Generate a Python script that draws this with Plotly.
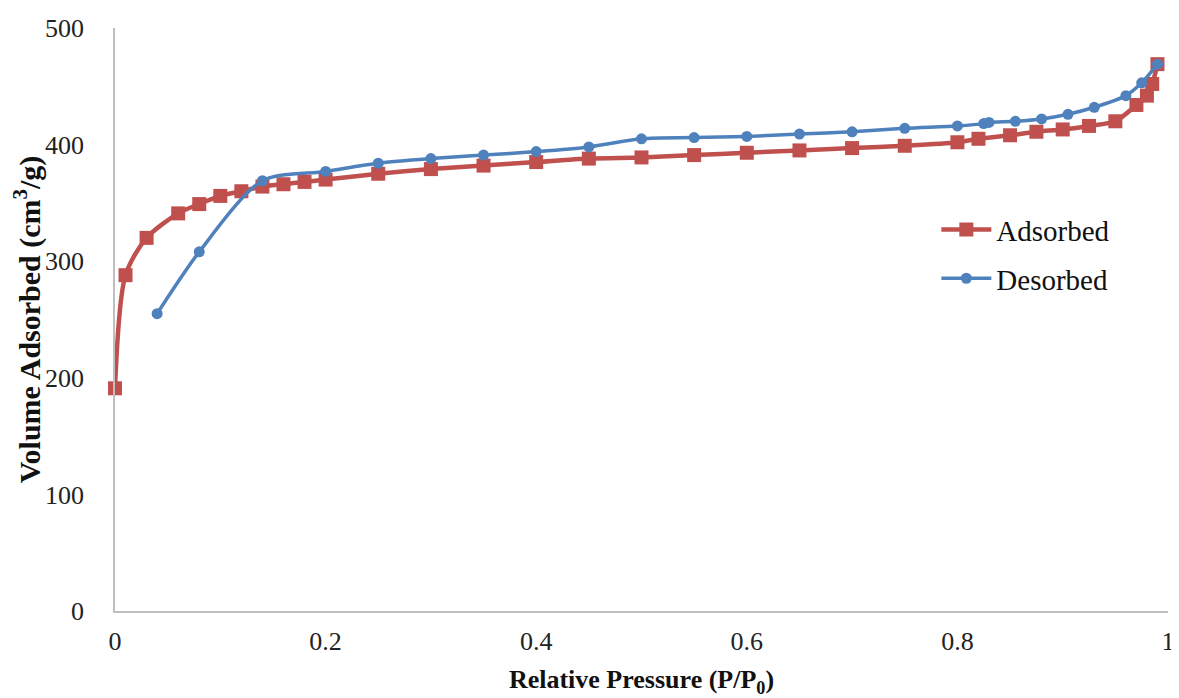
import plotly.graph_objects as go

ads_x = [0, 0.01, 0.03, 0.06, 0.08, 0.1, 0.12, 0.14, 0.16, 0.18, 0.2, 0.25, 0.3, 0.35, 0.4,
         0.45, 0.5, 0.55, 0.6, 0.65, 0.7, 0.75, 0.8, 0.82, 0.85, 0.875, 0.9, 0.925, 0.95,
         0.97, 0.98, 0.985, 0.99]
ads_y = [191, 288, 320, 341, 349, 356, 360, 364, 366, 368, 370, 375, 379, 382, 385,
         388, 389, 391, 393, 395, 397, 399, 402, 405, 408, 411, 413, 416, 420,
         434, 442, 452, 469]

des_x = [0.04, 0.08, 0.14, 0.2, 0.25, 0.3, 0.35, 0.4, 0.45, 0.5, 0.55, 0.6, 0.65, 0.7,
         0.75, 0.8, 0.825, 0.83, 0.855, 0.88, 0.905, 0.93, 0.96, 0.975, 0.99]
des_y = [255, 308, 369, 377, 384, 388, 391, 394, 398, 405, 406, 407, 409, 411,
         414, 416, 418, 419, 420, 422, 426, 432, 442, 453, 469]

x_ticks = [0, 0.2, 0.4, 0.6, 0.8, 1]
x_tick_labels = ["0", "0.2", "0.4", "0.6", "0.8", "1"]
y_ticks = [0, 100, 200, 300, 400, 500]

RED = "#C0504D"
BLUE = "#4F81BD"
FONT = "Liberation Serif"

fig = go.Figure()
fig.add_trace(go.Scatter(
    x=ads_x, y=ads_y, name="Adsorbed", mode="lines+markers", legendgroup="a",
    line=dict(color=RED, width=4.5, shape="spline", smoothing=0.8),
    marker=dict(symbol="square", size=14, color=RED),
    cliponaxis=False,
))
fig.add_trace(go.Scatter(
    x=des_x, y=des_y, name="Desorbed", mode="lines+markers", legendgroup="b",
    line=dict(color=BLUE, width=3.5, shape="spline", smoothing=0.8),
    marker=dict(symbol="circle", size=11, color=BLUE),
    cliponaxis=False,
))

# page body has a default 8px margin, so margins are offset accordingly
fig.update_layout(
    width=1179, height=698,
    margin=dict(l=107, r=19, t=20, b=95, autoexpand=False),
    paper_bgcolor="white", plot_bgcolor="white",
    font=dict(family=FONT, size=26, color="#222"),
    showlegend=True,
    legend=dict(x=0.78, y=0.612, xanchor="left", yanchor="middle",
                font=dict(family=FONT, size=29, color="#111"),
                bgcolor="rgba(0,0,0,0)", itemwidth=50, tracegroupgap=8),
    xaxis=dict(range=[0, 1], tickvals=x_ticks, ticktext=x_tick_labels,
               showgrid=False, zeroline=False, showline=True, automargin=False,
               linecolor="#BFBFBF", linewidth=1.5, ticks="",
               ticklabelstandoff=6,
               tickfont=dict(family=FONT, size=26, color="#222"),
               title=dict(text="<b>Relative Pressure (P/P<sub>0</sub>)</b>",
                          font=dict(family=FONT, size=26, color="#111"), standoff=15)),
    yaxis=dict(range=[0, 500], tickvals=y_ticks,
               showgrid=False, zeroline=False, showline=True, automargin=False,
               linecolor="#BFBFBF", linewidth=1.5, ticks="",
               ticklabelstandoff=24,
               tickfont=dict(family=FONT, size=26, color="#222"),
               title=dict(text="<b>Volume Adsorbed (cm<sup>3</sup>/g)</b>",
                          font=dict(family=FONT, size=30, color="#111"), standoff=2)),
)

fig.write_html("out.html")
